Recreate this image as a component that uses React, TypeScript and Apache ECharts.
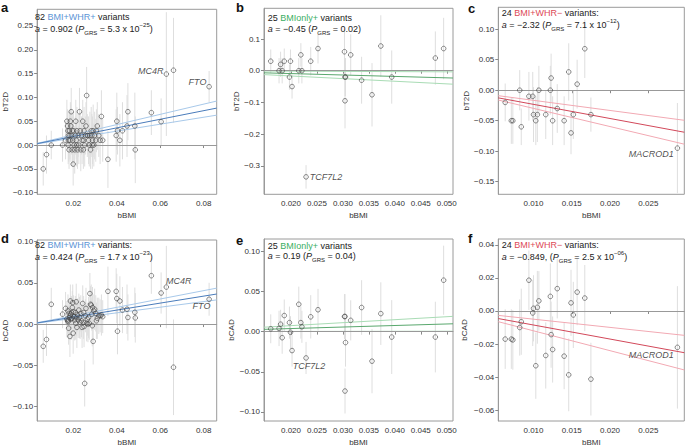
import React, { useEffect, useRef } from 'react';
import * as echarts from 'echarts';

const FONT = '"Liberation Sans", Arial, Helvetica, sans-serif';

// ---------- Group 1: 82 BMI+WHR+ variants (panels a, d) ----------
const bmi1 = [
  0.0061, 0.0076, 0.0098, 0.0150, 0.0164, 0.0170, 0.0173, 0.0175, 0.0177, 0.0178,
  0.0180, 0.0182, 0.0184, 0.0186, 0.0188, 0.0190, 0.0192, 0.0194, 0.0197, 0.0199,
  0.0201, 0.0203, 0.0206, 0.0209, 0.0211, 0.0213, 0.0216, 0.0219, 0.0222, 0.0225,
  0.0228, 0.0231, 0.0234, 0.0237, 0.0240, 0.0243, 0.0246, 0.0249, 0.0252, 0.0255,
  0.0258, 0.0261, 0.0264, 0.0267, 0.0270, 0.0273, 0.0276, 0.0279, 0.0282, 0.0285,
  0.0288, 0.0291, 0.0294, 0.0298, 0.0303, 0.0310, 0.0317, 0.0323, 0.0329, 0.0335,
  0.0359, 0.0397, 0.0400, 0.0403, 0.0414, 0.0426, 0.0447, 0.0451, 0.0483, 0.0485,
  0.0559, 0.0604, 0.0628, 0.0661, 0.0825, 0.0176, 0.0185, 0.0195, 0.0215, 0.0247,
  0.0287, 0.0306,
];
const t2d1 = [
  -0.05, -0.02, 0.00, 0.00, 0.01, 0.05, 0.04, 0.03, 0.02, 0.01,
  -0.01, 0.03, 0.02, 0.05, 0.04, 0.07, 0.02, -0.01, 0.01, -0.04,
  0.03, 0.00, -0.01, 0.02, 0.05, 0.01, 0.03, -0.01, 0.02, 0.00,
  0.07, 0.03, -0.01, 0.02, 0.01, 0.05, -0.01, 0.03, 0.00, 0.02,
  0.04, 0.104, 0.02, 0.02, 0.01, 0.00, 0.02, -0.01, 0.03, 0.02,
  0.01, 0.03, 0.00, 0.02, 0.01, 0.04, 0.02, 0.01, 0.06, 0.01,
  -0.03, 0.02, 0.05, 0.03, 0.01, 0.03, 0.04, 0.07, 0.04, -0.01,
  0.068, 0.049, 0.149, 0.157, 0.1225, 0.00, 0.01, 0.03, 0.00, 0.01,
  0.00, 0.03,
];
const t2dErr1 = [
  0.035, 0.04, 0.03, 0.035, 0.04, 0.045, 0.035, 0.04, 0.03, 0.045,
  0.04, 0.035, 0.05, 0.04, 0.045, 0.05, 0.04, 0.035, 0.05, 0.045,
  0.04, 0.035, 0.05, 0.04, 0.045, 0.04, 0.05, 0.04, 0.045, 0.04,
  0.05, 0.04, 0.045, 0.04, 0.05, 0.045, 0.04, 0.05, 0.045, 0.04,
  0.05, 0.06, 0.045, 0.04, 0.05, 0.045, 0.05, 0.04, 0.05, 0.045,
  0.05, 0.055, 0.045, 0.05, 0.045, 0.05, 0.045, 0.05, 0.055, 0.045,
  0.06, 0.055, 0.06, 0.05, 0.055, 0.06, 0.065, 0.06, 0.07, 0.07,
  0.047, 0.049, 0.13, 0.11, 0.033, 0.04, 0.045, 0.04, 0.045, 0.04,
  0.05, 0.045,
];
const cad1 = [
  -0.027, -0.0187, 0.024, 0.012, 0.019, 0.006, 0.004, 0.016, 0.005, -0.005,
  0.013, 0.008, -0.015, 0.028, 0.012, 0.006, 0.014, 0.007, 0.026, -0.011,
  0.015, 0.009, 0.005, 0.014, 0.001, 0.027, -0.004, 0.011, 0.005, 0.017,
  0.008, 0.002, 0.013, 0.004, -0.004, 0.025, 0.002, -0.003, -0.072, 0.010,
  0.019, 0.001, 0.006, 0.000, 0.008, 0.001, 0.037, 0.024, 0.023, 0.012,
  0.020, -0.021, 0.016, 0.018, 0.013, 0.007, 0.010, 0.010, 0.011, 0.009,
  0.0397, 0.0397, 0.031, -0.0087, 0.028, 0.017, 0.018, 0.008, 0.0143, 0.0075,
  0.0587, 0.0377, 0.0449, -0.0524, 0.0301, 0.003, 0.010, 0.020, 0.008, 0.014,
  -0.002, 0.004,
];
const cadErr1 = [
  0.02, 0.02, 0.02, 0.017, 0.02, 0.022, 0.018, 0.02, 0.015, 0.02,
  0.018, 0.02, 0.025, 0.02, 0.022, 0.025, 0.02, 0.018, 0.022, 0.025,
  0.02, 0.018, 0.025, 0.02, 0.02, 0.022, 0.025, 0.02, 0.022, 0.02,
  0.025, 0.02, 0.022, 0.02, 0.025, 0.022, 0.02, 0.025, 0.028, 0.02,
  0.025, 0.022, 0.02, 0.022, 0.025, 0.02, 0.025, 0.022, 0.025, 0.02,
  0.025, 0.028, 0.02, 0.025, 0.022, 0.025, 0.022, 0.02, 0.025, 0.02,
  0.03, 0.028, 0.03, 0.028, 0.03, 0.028, 0.03, 0.028, 0.03, 0.03,
  0.022, 0.025, 0.05, 0.058, 0.02, 0.02, 0.022, 0.02, 0.022, 0.02,
  0.025, 0.022,
];
const genes1: [number, string][] = [[72, 'MC4R'], [74, 'FTO']];

// ---------- Group 2: 25 BMIonly+ variants (panels b, e) ----------
const bmi2 = [
  0.0161, 0.0177, 0.0180, 0.0183, 0.0187, 0.0197, 0.0199, 0.0202, 0.0215, 0.0219,
  0.0221, 0.0229, 0.0238, 0.0252, 0.0303, 0.0304, 0.0305, 0.0304, 0.0315, 0.0336,
  0.0356, 0.0373, 0.0394, 0.0478, 0.0494,
];
const t2d2 = [
  0.03, 0.00, 0.02, 0.00, 0.03, -0.02, 0.03, -0.05, 0.00, 0.05,
  0.00, -0.335, 0.03, 0.07, 0.06, -0.02, -0.02, -0.095, 0.05, -0.03,
  -0.076, 0.078, -0.02, 0.04, 0.07,
];
const t2dErr2 = [
  0.037, 0.04, 0.04, 0.04, 0.04, 0.04, 0.037, 0.038, 0.04, 0.037,
  0.04, 0.037, 0.045, 0.047, 0.07, 0.06, 0.06, 0.087, 0.065, 0.074,
  0.1, 0.097, 0.084, 0.084, 0.097,
];
const cad2 = [
  0.0035, 0.004, 0.0092, -0.0076, 0.02, 0.0112, -0.0008, -0.0236, 0.034, 0.0112,
  0.006, -0.0328, 0.0184, 0.0272, 0.0188, 0.0188, -0.0136, -0.074, 0.014, 0.030,
  -0.0368, 0.0224, -0.0068, -0.0068, 0.064,
];
const cadErr2 = [
  0.018, 0.022, 0.018, 0.02, 0.02, 0.02, 0.02, 0.02, 0.022, 0.02,
  0.02, 0.02, 0.027, 0.026, 0.028, 0.028, 0.03, 0.028, 0.025, 0.034,
  0.04, 0.039, 0.046, 0.044, 0.043,
];
const genes2: [number, string][] = [[11, 'TCF7L2']];

// ---------- Group 3: 24 BMI+WHR- variants (panels c, f) ----------
const bmi3 = [
  0.0063, 0.0071, 0.0073, 0.0082, 0.0084, 0.0094, 0.0099, 0.0100, 0.0103, 0.0105,
  0.0107, 0.0116, 0.0122, 0.0123, 0.0125, 0.0131, 0.0140, 0.0146, 0.0149, 0.0152,
  0.0157, 0.0167, 0.0175, 0.0288,
];
const t2d3 = [
  -0.02, -0.05, -0.05, 0.00, -0.06, -0.01, -0.01, -0.04, -0.05, -0.04,
  0.00, -0.04, 0.00, 0.02, -0.05, -0.03, -0.05, 0.03, -0.07, -0.04,
  0.01, 0.068, -0.04, -0.095,
];
const t2dErr3 = [
  0.031, 0.038, 0.038, 0.033, 0.03, 0.04, 0.04, 0.045, 0.04, 0.045,
  0.04, 0.04, 0.04, 0.04, 0.04, 0.04, 0.04, 0.047, 0.035, 0.04,
  0.04, 0.048, 0.028, 0.074,
];
const cad3 = [
  -0.017, -0.017, -0.0175, -0.010, -0.0065, 0.0186, -0.0012, 0.0016, -0.0331, 0.0022,
  0.0061, -0.0269, 0.0088, -0.0143, -0.0233, 0.0135, -0.0273, -0.0386, 0.0049, -0.0024,
  0.0114, 0.0078, -0.0412, -0.022,
];
const cadErr3 = [
  0.018, 0.018, 0.018, 0.017, 0.02, 0.018, 0.02, 0.02, 0.02, 0.022,
  0.018, 0.02, 0.02, 0.02, 0.02, 0.018, 0.02, 0.022, 0.02, 0.02,
  0.02, 0.02, 0.022, 0.037,
];
const genes3: [number, string][] = [[23, 'MACROD1']];

// ---------- GRS slopes: [estimate, lower 95% CI, upper 95% CI] ----------
const slopeA = [0.902, 0.73, 1.074];
const slopeB = [-0.45, -0.83, -0.07];
const slopeC = [-2.32, -2.98, -1.66];
const slopeD = [0.424, 0.341, 0.507];
const slopeE = [0.19, 0.009, 0.371];
const slopeF = [-0.849, -1.2, -0.496];

// ---------- Tick values ----------
const ticksX1 = [0.02, 0.04, 0.06, 0.08];
const ticksX2 = [0.02, 0.025, 0.03, 0.035, 0.04, 0.045, 0.05];
const ticksX3 = [0.01, 0.015, 0.02, 0.025];
const ticksYA = [-0.1, -0.05, 0, 0.05, 0.1, 0.15, 0.2, 0.25];
const ticksYB = [-0.3, -0.2, -0.1, 0, 0.1];
const ticksYC = [-0.15, -0.1, -0.05, 0, 0.05, 0.1];
const ticksYD = [-0.1, -0.05, 0, 0.05, 0.1];
const ticksYE = [-0.1, -0.05, 0, 0.05, 0.1];
const ticksYF = [-0.06, -0.04, -0.02, 0, 0.02, 0.04];

// ---------- Annotation texts ----------
const headA = ['82 ', 'BMI+WHR+', ' variants'];
const headB = ['25 ', 'BMIonly+', ' variants'];
const headC = ['24 ', 'BMI+WHR\u2212', ' variants:'];
const headD = ['82 ', 'BMI+WHR+', ' variants:'];
const headE = ['25 ', 'BMIonly+', ' variants'];
const headF = ['24 ', 'BMI+WHR\u2212', ' variants:'];
const statA = ['0.902', '5.3 x 10', '\u221225'];
const statB = ['\u22120.45', '0.02', ''];
const statC = ['\u22122.32', '7.1 x 10', '\u221212'];
const statD = ['0.424', '1.7 x 10', '\u221223'];
const statE = ['0.19', '0.04', ''];
const statF = ['\u22120.849,', '2.5 x 10', '\u221206'];

const BLUE = { text: '#5b95d6', main: '#4a7cbb', ci: '#a8c9ea' };
const GREEN = { text: '#3aae62', main: '#5aa86e', ci: '#a9dcb5' };
const RED = { text: '#dd4a57', main: '#d2485a', ci: '#f2a9b3' };

type LabelPos = { position: string; distance: number; offset: [number, number] };

const panels = [
  {
    letter: 'a', lx: 1, ly: 7, grid: { left: 30.7, top: 9.3, width: 186, height: 185 },
    xr: [0.0033, 0.086], yr: [-0.1034, 0.285], xt: ticksX1, yt: ticksYA, xd: 2, yd: 2,
    yName: 'bT2D', yGap: 25, xs: bmi1, ys: t2d1, es: t2dErr1, slope: slopeA, col: BLUE,
    head: headA, stat: statA, tx: 35, ty1: 17.3, ty2: 29.3, genes: genes1,
    gpos: [
      { position: 'left', distance: 0, offset: [0, -3] },
      { position: 'left', distance: 0, offset: [0, -5] },
    ] as LabelPos[],
  },
  {
    letter: 'b', lx: 236, ly: 7, grid: { left: 264, top: 8.3, width: 189, height: 186 },
    xr: [0.0148, 0.0512], yr: [-0.39, 0.197], xt: ticksX2, yt: ticksYB, xd: 3, yd: 1,
    yName: 'bT2D', yGap: 24, xs: bmi2, ys: t2d2, es: t2dErr2, slope: slopeB, col: GREEN,
    head: headB, stat: statB, tx: 267.7, ty1: 18.3, ty2: 28.7, genes: genes2,
    gpos: [{ position: 'right', distance: 1, offset: [0, 0] }] as LabelPos[],
  },
  {
    letter: 'c', lx: 468, ly: 8, grid: { left: 498.3, top: 7.3, width: 186, height: 187 },
    xr: [0.0054, 0.0297], yr: [-0.1707, 0.136], xt: ticksX3, yt: ticksYC, xd: 3, yd: 2,
    yName: 'bT2D', yGap: 27, xs: bmi3, ys: t2d3, es: t2dErr3, slope: slopeC, col: RED,
    head: headC, stat: statC, tx: 501.7, ty1: 13.3, ty2: 25, genes: genes3,
    gpos: [{ position: 'left', distance: 1, offset: [0, 6] }] as LabelPos[],
  },
  {
    letter: 'd', lx: 1, ly: 238, grid: { left: 30.7, top: 240, width: 186, height: 186.7 },
    xr: [0.0033, 0.086], yr: [-0.1176, 0.102], xt: ticksX1, yt: ticksYD, xd: 2, yd: 2,
    yName: 'bCAD', yGap: 24, xs: bmi1, ys: cad1, es: cadErr1, slope: slopeD, col: BLUE,
    head: headD, stat: statD, tx: 35, ty1: 245, ty2: 256.7, genes: genes1,
    gpos: [
      { position: 'right', distance: 0, offset: [-3, -6] },
      { position: 'left', distance: 0, offset: [4, 7] },
    ] as LabelPos[],
  },
  {
    letter: 'e', lx: 236, ly: 240, grid: { left: 264, top: 239, width: 189, height: 187.7 },
    xr: [0.0148, 0.0512], yr: [-0.1113, 0.1153], xt: ticksX2, yt: ticksYE, xd: 3, yd: 2,
    yName: 'bCAD', yGap: 27, xs: bmi2, ys: cad2, es: cadErr2, slope: slopeE, col: GREEN,
    head: headE, stat: statE, tx: 267.7, ty1: 246, ty2: 256, genes: genes2,
    gpos: [{ position: 'bottom', distance: 1, offset: [3, 0] }] as LabelPos[],
  },
  {
    letter: 'f', lx: 468, ly: 238, grid: { left: 498.3, top: 239, width: 186, height: 187.7 },
    xr: [0.0054, 0.0297], yr: [-0.0665, 0.0435], xt: ticksX3, yt: ticksYF, xd: 3, yd: 2,
    yName: 'bCAD', yGap: 30, xs: bmi3, ys: cad3, es: cadErr3, slope: slopeF, col: RED,
    head: headF, stat: statF, tx: 501.7, ty1: 245, ty2: 256.7, genes: genes3,
    gpos: [{ position: 'left', distance: 1, offset: [0, 8] }] as LabelPos[],
  },
];

const fmt = (d: number) => (v: number) => {
  const s = Math.abs(v) < 1e-12 ? (0).toFixed(d) : Number(v).toFixed(d);
  return s.replace('-', '\u2212');
};

function buildOption() {
  const grid: any[] = [];
  const xAxis: any[] = [];
  const yAxis: any[] = [];
  const series: any[] = [];
  const graphic: any[] = [];

  panels.forEach((p, i) => {
    grid.push({
      ...p.grid, show: true, borderColor: '#9a9a9a', borderWidth: 1,
      backgroundColor: 'transparent', containLabel: false,
    });
    const axisCommon = {
      type: 'value', gridIndex: i,
      splitLine: { show: false },
      axisLine: { show: true, lineStyle: { color: '#9a9a9a', width: 1 } },
      nameTextStyle: { fontSize: 8, color: '#333', fontFamily: FONT },
    };
    xAxis.push({
      ...axisCommon, min: p.xr[0], max: p.xr[1],
      axisTick: { show: true, length: 3, lineStyle: { color: '#888' }, customValues: p.xt },
      axisLabel: {
        customValues: p.xt, formatter: fmt(p.xd), fontSize: 8, color: '#333',
        fontFamily: FONT, margin: 5,
      },
      name: 'bBMI', nameLocation: 'middle', nameGap: 17,
    });
    yAxis.push({
      ...axisCommon, min: p.yr[0], max: p.yr[1],
      axisTick: { show: true, length: 3, lineStyle: { color: '#888' }, customValues: p.yt },
      axisLabel: {
        customValues: p.yt, formatter: fmt(p.yd), fontSize: 8, color: '#333',
        fontFamily: FONT, margin: 4,
      },
      name: p.yName, nameLocation: 'middle', nameGap: p.yGap,
    });

    // error bars
    series.push({
      type: 'custom', xAxisIndex: i, yAxisIndex: i, clip: true, silent: true, z: 1,
      data: p.xs.map((x, k) => [x, p.ys[k] - p.es[k], p.ys[k] + p.es[k]]),
      encode: { x: 0, y: [1, 2] },
      renderItem: (params: any, api: any) => {
        const a = api.coord([api.value(0), api.value(1)]);
        const b = api.coord([api.value(0), api.value(2)]);
        return {
          type: 'line',
          shape: { x1: a[0], y1: a[1], x2: b[0], y2: b[1] },
          style: { stroke: '#dedede', lineWidth: 1 },
        };
      },
    });

    // regression lines (through origin)
    const lineData = (s: number) => [[p.xr[0], s * p.xr[0]], [p.xr[1], s * p.xr[1]]];
    [1, 2].forEach((k) => {
      series.push({
        type: 'line', xAxisIndex: i, yAxisIndex: i, symbol: 'none', silent: true, z: 3,
        data: lineData(p.slope[k]), lineStyle: { color: p.col.ci, width: 1 },
      });
    });
    series.push({
      type: 'line', xAxisIndex: i, yAxisIndex: i, symbol: 'none', silent: true, z: 4,
      data: lineData(p.slope[0]), lineStyle: { color: p.col.main, width: 1 },
      markLine: {
        silent: true, symbol: 'none', label: { show: false },
        lineStyle: { color: '#999', type: 'solid', width: 1 },
        data: [{ yAxis: 0 }],
      },
    });

    // points
    const geneMap = new Map<number, [string, LabelPos]>();
    p.genes.forEach(([idx, name], gi) => geneMap.set(idx, [name, p.gpos[gi]]));
    series.push({
      type: 'scatter', xAxisIndex: i, yAxisIndex: i, z: 5, symbol: 'circle', symbolSize: 4.6,
      itemStyle: { color: 'rgba(255,255,255,0)', borderColor: '#444', borderWidth: 0.8 },
      data: p.xs.map((x, k) => {
        const g = geneMap.get(k);
        if (!g) return [x, p.ys[k]];
        return {
          value: [x, p.ys[k]],
          label: {
            show: true, formatter: g[0], position: g[1].position, distance: g[1].distance,
            offset: g[1].offset, fontSize: 9, fontStyle: 'italic', color: '#222', fontFamily: FONT,
          },
        };
      }),
    });

    // panel letter
    graphic.push({
      type: 'text', x: p.lx, y: p.ly, silent: true,
      style: {
        text: p.letter, fontSize: 13, fontWeight: 'bold', fontFamily: FONT, fill: '#111',
        verticalAlign: 'middle', align: 'left',
      },
    });
    // annotation line 1
    graphic.push({
      type: 'text', x: p.tx, y: p.ty1, silent: true, z: 10,
      style: {
        text: `${p.head[0]}{c|${p.head[1]}}${p.head[2]}`,
        fontSize: 9, fontFamily: FONT, fill: '#222', verticalAlign: 'middle', align: 'left',
        rich: { c: { fill: p.col.text, fontSize: 9, fontFamily: FONT } },
      },
    });
    // annotation line 2
    const tail = p.stat[2]
      ? `${p.stat[1]}{p|${p.stat[2]}})`
      : `${p.stat[1]})`;
    graphic.push({
      type: 'text', x: p.tx, y: p.ty2, silent: true, z: 10,
      style: {
        text: `{i|a} = ${p.stat[0]} ({i|P}{s|GRS} = ${tail}`,
        fontSize: 9, fontFamily: FONT, fill: '#222', verticalAlign: 'middle', align: 'left',
        lineHeight: 14,
        rich: {
          i: { fontStyle: 'italic', fontSize: 9, fontFamily: FONT, fill: '#222', lineHeight: 14 },
          s: { fontSize: 6, fontFamily: FONT, fill: '#222', lineHeight: 8, verticalAlign: 'bottom' },
          p: { fontSize: 6, fontFamily: FONT, fill: '#222', lineHeight: 8, verticalAlign: 'top' },
        },
      },
    });
  });

  return {
    animation: false,
    backgroundColor: '#ffffff',
    textStyle: { fontFamily: FONT },
    grid, xAxis, yAxis, series, graphic,
  };
}

export default function App() {
  const ref = useRef<HTMLDivElement>(null);
  useEffect(() => {
    if (!ref.current) return;
    const chart = echarts.init(ref.current, undefined, { renderer: 'svg' });
    chart.setOption(buildOption() as any);
    return () => chart.dispose();
  }, []);
  return (
    <div
      ref={ref}
      style={{ position: 'absolute', left: 0, top: 0, width: 685, height: 447, background: '#fff' }}
    />
  );
}
